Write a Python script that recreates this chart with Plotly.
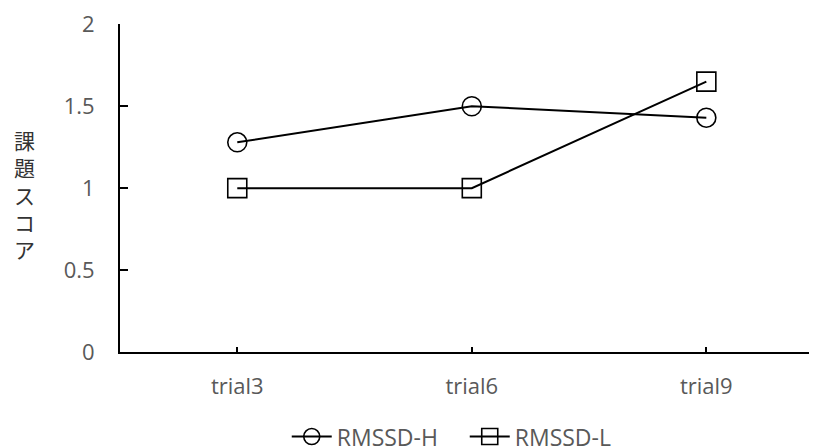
import plotly.graph_objects as go

categories = ["trial3", "trial6", "trial9"]
rmssd_h = [1.28, 1.50, 1.43]
rmssd_l = [1.00, 1.00, 1.65]
y_ticks = [0, 0.5, 1, 1.5, 2]
y_tick_labels = ["0", "0.5", "1", "1.5", "2"]

font_fam = "Open Sans, Noto Sans CJK JP, sans-serif"
gray = "#595959"

fig = go.Figure()
fig.add_trace(go.Scatter(
    x=[0, 1, 2], y=rmssd_h, name="RMSSD-H", mode="lines+markers",
    line=dict(color="black", width=2),
    marker=dict(symbol="circle-open", size=19, color="black", line=dict(width=1.6)),
))
fig.add_trace(go.Scatter(
    x=[0, 1, 2], y=rmssd_l, name="RMSSD-L", mode="lines+markers",
    line=dict(color="black", width=2),
    marker=dict(symbol="square-open", size=19, color="black", line=dict(width=1.6)),
))

fig.update_layout(
    width=817, height=448,
    margin=dict(l=112, r=0, t=16, b=104, autoexpand=False),
    paper_bgcolor="white", plot_bgcolor="white",
    font=dict(family=font_fam, color=gray, size=20),
    showlegend=True,
    legend=dict(orientation="h", x=0.489, xanchor="center", y=-0.258, yanchor="middle",
                font=dict(size=23, color=gray), itemwidth=40, tracegroupgap=0,
                entrywidth=123, entrywidthmode="pixels"),
    xaxis=dict(
        range=[-0.5, 2.506], tickvals=[0, 1, 2], ticktext=categories,
        showgrid=False, zeroline=False, showline=True, linecolor="black", linewidth=2,
        ticks="inside", ticklen=5, tickcolor="black", tickwidth=1.5,
        ticklabelstandoff=14, tickfont=dict(size=22, color=gray),
    ),
    yaxis=dict(
        range=[0, 2.002], tickvals=y_ticks, ticktext=y_tick_labels,
        showgrid=False, zeroline=False, showline=True, linecolor="black", linewidth=2,
        ticks="inside", ticklen=8, tickcolor="black", tickwidth=1.5,
        ticklabelstandoff=19, tickfont=dict(size=22, color=gray),
        ticklabeloverflow="allow",
    ),
    annotations=[dict(
        text="課<br>題<br>ス<br>コ<br>ア", xref="paper", yref="paper",
        x=-0.135, y=0.479, xanchor="center", yanchor="middle", showarrow=False,
        font=dict(size=21, color="#333333", family="Noto Sans CJK JP"),
    )],
)

fig.write_html("out.html")
